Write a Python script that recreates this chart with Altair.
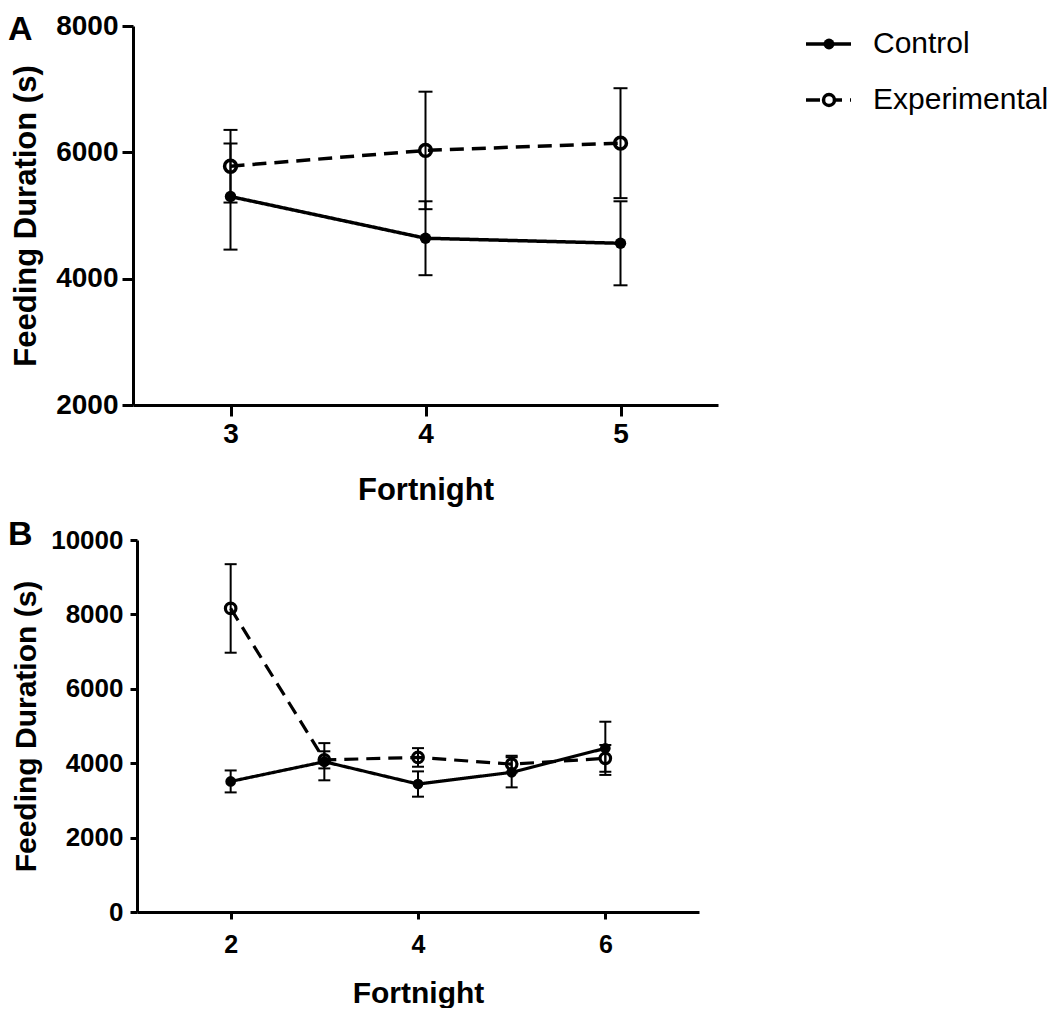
import altair as alt
import pandas as pd

# ---------------- data ----------------
series_names = ["Control", "Experimental"]

fortnight_a = [3, 4, 5]
control_a = [5300, 4640, 4560]
control_a_sem = [840, 585, 665]
exp_a = [5780, 6030, 6145]
exp_a_sem = [575, 930, 870]

fortnight_b = [2, 3, 4, 5, 6]
control_b = [3510, 4040, 3440, 3755, 4400]
control_b_sem = [295, 500, 340, 405, 715]
exp_b = [8160, 4090, 4155, 3975, 4130]
exp_b_sem = [1190, 230, 250, 225, 360]

y_ticks_a = [2000, 4000, 6000, 8000]
x_ticks_a = [3, 4, 5]
y_ticks_b = [0, 2000, 4000, 6000, 8000, 10000]
x_ticks_b = [2, 4, 6]

x_title = "Fortnight"
y_title = "Feeding Duration (s)"
panel_labels = ["A", "B"]

FONT = "Liberation Sans"


def make_df(xs, c, cs, e, es):
    rows = []
    for x, m, s in zip(xs, c, cs):
        rows.append({"fortnight": x, "series": series_names[0], "mean": m, "lo": m - s, "hi": m + s})
    for x, m, s in zip(xs, e, es):
        rows.append({"fortnight": x, "series": series_names[1], "mean": m, "lo": m - s, "hi": m + s})
    return pd.DataFrame(rows)


def panel(df, xdom, ydom, xticks, yticks, width, height, letter, s):
    xaxis = alt.Axis(values=xticks, title=x_title, format="d", grid=False,
                     labelFontSize=s["xlab"], titleFontSize=s["title"],
                     tickSize=s["tick"], labelPadding=s["xpad"], titlePadding=s["xtpad"],
                     labelFlush=False)
    yaxis = alt.Axis(values=yticks, title=y_title, format="d", grid=False,
                     labelFontSize=s["ylab"], titleFontSize=s["title"],
                     tickSize=s["tick"], labelPadding=s["ypad"], offset=s["yoff"],
                     titleX=s["titlex"], titleBaseline="top")
    X = alt.X("fortnight:Q",
              scale=alt.Scale(domain=xdom, range=[-s["yoff"], width], nice=False, zero=False),
              axis=xaxis)

    def Y(field):
        return alt.Y(field, type="quantitative",
                     scale=alt.Scale(domain=ydom, nice=False, zero=False), axis=yaxis)

    base = alt.Chart(df)
    err = base.mark_rule(color="black", strokeWidth=2).encode(x=X, y=Y("lo"), y2="hi:Q")
    cap_lo = base.mark_tick(orient="horizontal", size=s["cap"], thickness=2,
                            color="black", opacity=1).encode(x=X, y=Y("lo"))
    cap_hi = base.mark_tick(orient="horizontal", size=s["cap"], thickness=2,
                            color="black", opacity=1).encode(x=X, y=Y("hi"))
    line = base.mark_line(color="black", strokeWidth=s["lw"]).encode(
        x=X, y=Y("mean"), detail="series:N",
        strokeDash=alt.StrokeDash("series:N",
                                  scale=alt.Scale(domain=series_names, range=[[1, 0], [14, 8]]),
                                  legend=None))
    pts_e = base.transform_filter(alt.datum.series == series_names[1]).mark_point(
        filled=False, size=s["osize"], strokeWidth=s["lw"], color="black", opacity=1
    ).encode(x=X, y=Y("mean"))
    pts_c = base.transform_filter(alt.datum.series == series_names[0]).mark_point(
        filled=True, size=s["fsize"], color="black", opacity=1
    ).encode(x=X, y=Y("mean"))
    lab = alt.Chart(pd.DataFrame({"label": [letter]})).mark_text(
        align="left", baseline="top", font=FONT, fontSize=34, fontWeight="bold", color="black"
    ).encode(x=alt.value(s["lx"]), y=alt.value(s["ly"]), text="label:N")
    return alt.layer(err, cap_lo, cap_hi, line, pts_e, pts_c, lab).properties(width=width, height=height)


style_a = dict(xlab=28, ylab=28, title=31, tick=11, xpad=4, ypad=4, xtpad=27, titlex=-122, yoff=0,
               cap=14, lw=3.5, osize=140, fsize=130, lx=-125, ly=-13)
style_b = dict(xlab=25, ylab=26, title=30, tick=7, xpad=13, ypad=7, xtpad=21, titlex=-126, yoff=-4,
               cap=12, lw=3.2, osize=110, fsize=115, lx=-125, ly=-22)

df_a = make_df(fortnight_a, control_a, control_a_sem, exp_a, exp_a_sem)
df_b = make_df(fortnight_b, control_b, control_b_sem, exp_b, exp_b_sem)

chart_a = panel(df_a, [2.5, 5.5], [2000, 8000], x_ticks_a, y_ticks_a, 585, 379, panel_labels[0], style_a)
chart_b = panel(df_b, [1, 7], [0, 10000], x_ticks_b, y_ticks_b, 566, 372, panel_labels[1], style_b)

# ---------------- legend ----------------
leg_df = pd.DataFrame({"series": series_names})
leg_y = alt.Y("series:N", scale=alt.Scale(type="point", domain=series_names, range=[18, 74], padding=0),
              axis=None)
leg_base = alt.Chart(leg_df).encode(y=leg_y)
leg_rule = leg_base.mark_rule(color="black", strokeWidth=3.5).encode(
    x=alt.value(0), x2=alt.value(45),
    strokeDash=alt.StrokeDash("series:N",
                              scale=alt.Scale(domain=series_names, range=[[1, 0], [12, 7]]),
                              legend=None))
leg_pc = leg_base.transform_filter(alt.datum.series == series_names[0]).mark_point(
    filled=True, size=120, color="black", opacity=1).encode(x=alt.value(23))
leg_pe = leg_base.transform_filter(alt.datum.series == series_names[1]).mark_point(
    filled=True, size=120, fill="white", stroke="black", strokeWidth=3.5, opacity=1).encode(x=alt.value(23))
leg_txt = leg_base.mark_text(align="left", baseline="middle", font=FONT, fontSize=30,
                             color="black").encode(x=alt.value(67), text="series:N")
legend = alt.layer(leg_rule, leg_pc, leg_pe, leg_txt).properties(width=240, height=100)

top = alt.hconcat(chart_a, legend, spacing=86)
chart = alt.vconcat(top, chart_b, spacing=13).properties(
    padding={"left": 0, "top": 4, "right": 0, "bottom": 0}
).configure_view(stroke=None).configure_axis(
    domainColor="black", tickColor="black", labelColor="black", titleColor="black",
    labelFont=FONT, titleFont=FONT, labelFontWeight="bold", titleFontWeight="bold",
    domainWidth=3, tickWidth=3
)

chart.save("out.html", embed_options={"renderer": "svg", "actions": False})
